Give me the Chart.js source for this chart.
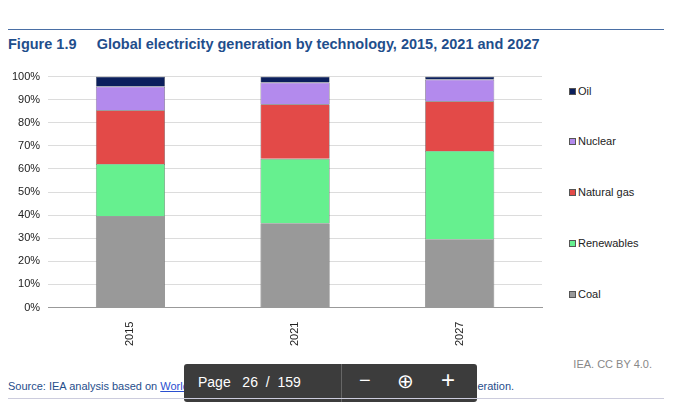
<!DOCTYPE html>
<html><head><meta charset="utf-8">
<script src="https://cdn.jsdelivr.net/npm/chart.js@4/dist/chart.umd.min.js"></script>
<style>
body{margin:0;width:676px;height:402px;background:#fff;font-family:"Liberation Sans",Arial,sans-serif;position:relative;overflow:hidden}
#topline{position:absolute;left:8px;top:29px;width:656px;height:1px;background:#4a6fa5}
#title{position:absolute;left:8px;top:36px;font-size:14.5px;font-weight:bold;color:#1f4e8c;white-space:pre}
#wrap{position:absolute;left:0;top:62px;width:560px;height:290px}
#legend{position:absolute;left:569px;top:0}
.li{position:absolute;font-size:11px;color:#222;white-space:nowrap;left:0}
.li span{display:inline-block;width:7px;height:7px;margin-right:2px;vertical-align:0px;border:0.5px solid #555;box-sizing:border-box}
#cc{position:absolute;right:24px;top:358px;font-size:11px;color:#888}
#src{position:absolute;left:8px;top:380px;font-size:11px;color:#1f4e8c}
#src u{color:#2a4fd0}
#ov{position:absolute;left:184px;top:364px;width:293px;height:38px;background:#3c3c3c;border-radius:3px;color:#fff;font-size:14px}
#bot{position:absolute;left:8px;top:398px;width:656px;height:1px;background:#ccd}
</style></head><body>
<div id="topline"></div>
<div id="title">Figure 1.9     Global electricity generation by technology, 2015, 2021 and 2027</div>
<div id="wrap"><canvas id="c"></canvas></div>
<div id="legend"></div>
<div id="cc">IEA. CC BY 4.0.</div>
<div id="src">Source: IEA analysis based on <u>World Energy Outlook 2022</u> (2022), Fossil fuel and electricity generation.</div>
<div id="ov"><span style="position:absolute;left:14px;top:10px">Page&nbsp;&nbsp; 26 &nbsp;/ &nbsp;159</span><span style="position:absolute;left:157px;top:0;width:1px;height:38px;background:#666"></span><span style="position:absolute;left:175px;top:5px;font-size:20px">−</span><span style="position:absolute;left:213px;top:5px;font-size:20px">⊕</span><span style="position:absolute;left:257px;top:2px;font-size:24px">+</span></div>
<div id="bot"></div>
<script>
const years=["2015","2021","2027"];
const coal=[39.5,36.5,29.6];
const renewables=[22.7,27.9,38.2];
const naturalGas=[23.2,23.6,21.5];
const nuclear=[10.3,9.4,9.4];
const oil=[4.3,2.6,1.3];
const yTicks=[0,10,20,30,40,50,60,70,80,90,100];
const series=[["Coal",coal,"#999999"],["Renewables",renewables,"#66f08f"],["Natural gas",naturalGas,"#e34a48"],["Nuclear",nuclear,"#b38aed"],["Oil",oil,"#0b1f5c"]];
const legendY={"Oil":23,"Nuclear":73,"Natural gas":124,"Renewables":175,"Coal":226};
const lg=document.getElementById('legend');lg.style.top='62px';
series.forEach(s=>{const d=document.createElement('div');d.className='li';d.style.top=legendY[s[0]]+'px';d.innerHTML='<span style="background:'+s[2]+'"></span>'+s[0];lg.appendChild(d);});
new Chart(document.getElementById('c'),{type:'bar',
data:{labels:years,datasets:series.map(s=>({label:s[0],data:s[1],backgroundColor:s[2],borderColor:'#555',borderWidth:0.6,barPercentage:0.42,categoryPercentage:1}))},
options:{responsive:true,maintainAspectRatio:false,animation:false,
layout:{padding:{top:5,right:18,left:4}},
plugins:{legend:{display:false},tooltip:{enabled:false}},
scales:{x:{stacked:true,grid:{display:false},border:{color:'#999'},ticks:{color:'#222',font:{size:11,family:'Liberation Sans'},minRotation:90,maxRotation:90,padding:6}},
y:{stacked:true,min:0,max:100,afterBuildTicks:a=>{a.ticks=yTicks.map(v=>({value:v}))},grid:{color:'#dcdcdc',drawTicks:false},border:{display:false},ticks:{color:'#222',font:{size:11,family:'Liberation Sans'},padding:8,callback:v=>v+'%'}}}}});
</script></body></html>
